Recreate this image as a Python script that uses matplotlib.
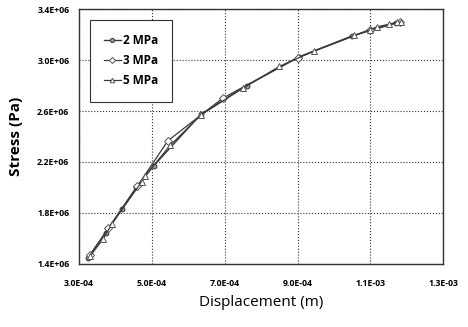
import matplotlib.pyplot as plt
from matplotlib.ticker import FuncFormatter

# data (displacement in m, stress in Pa)
x_2mpa = [3.24e-4, 3.73e-4, 4.17e-4, 4.57e-4, 5.05e-4, 6.35e-4, 7.6e-4,
          9.05e-4, 1.05e-3, 1.17e-3]
y_2mpa = [1.445e6, 1.645e6, 1.83e6, 2.0e6, 2.17e6, 2.576e6, 2.80e6,
          3.026e6, 3.19e6, 3.29e6]

x_3mpa = [3.30e-4, 3.80e-4, 4.60e-4, 5.44e-4, 6.94e-4, 9.0e-4, 1.10e-3, 1.18e-3]
y_3mpa = [1.47e6, 1.68e6, 2.01e6, 2.367e6, 2.70e6, 3.02e6, 3.24e6, 3.30e6]

x_5mpa = [3.30e-4, 3.66e-4, 3.90e-4, 4.72e-4, 4.81e-4, 5.5e-4, 6.35e-4,
          7.5e-4, 8.5e-4, 9.46e-4, 1.056e-3, 1.10e-3, 1.118e-3, 1.152e-3,
          1.173e-3, 1.184e-3]
y_5mpa = [1.46e6, 1.596e6, 1.714e6, 2.045e6, 2.09e6, 2.33e6, 2.57e6,
          2.78e6, 2.95e6, 3.073e6, 3.194e6, 3.24e6, 3.261e6, 3.282e6,
          3.298e6, 3.30e6]

labels = ['2 MPa', '3 MPa', '5 MPa']
xticks = [3.0e-4, 5.0e-4, 7.0e-4, 9.0e-4, 1.1e-3, 1.3e-3]
yticks = [1.4e6, 1.8e6, 2.2e6, 2.6e6, 3.0e6, 3.4e6]


def sci_fmt(v, pos):
    # Excel style 3.0E-04
    m, e = f'{v:.1E}'.split('E')
    return f'{m}E{int(e):+03d}'


plt.rcParams['font.family'] = ['Open Sans', 'DejaVu Sans']

fig = plt.figure(figsize=(4.68, 3.27), dpi=100)
ax = fig.add_axes([0.169, 0.193, 0.778, 0.779])

lc = '#3a3a3a'
ax.plot(x_2mpa, y_2mpa, '-o', c=lc, lw=1.0, ms=3.5, mfc='#999999', mec=lc,
        mew=0.7, label=labels[0], zorder=3)
ax.plot(x_3mpa, y_3mpa, '-D', c=lc, lw=0.9, ms=3.6, mfc='white', mec='#555555',
        mew=0.7, label=labels[1], zorder=4)
ax.plot(x_5mpa, y_5mpa, '-^', c=lc, lw=0.9, ms=3.8, mfc='white', mec='#555555',
        mew=0.7, label=labels[2], zorder=5)

ax.set_xlim(xticks[0], xticks[-1])
ax.set_ylim(yticks[0], yticks[-1])
ax.set_xticks(xticks)
ax.set_yticks(yticks)
ax.xaxis.set_major_formatter(FuncFormatter(sci_fmt))
ax.yaxis.set_major_formatter(FuncFormatter(sci_fmt))
ax.tick_params(length=0, labelsize=6.3, pad=7)
for t in ax.get_xticklabels() + ax.get_yticklabels():
    t.set_fontweight('bold')
ax.tick_params(axis='x', pad=11)

ax.grid(True, ls=':', lw=0.8, c='#333333', zorder=0)
for s in ax.spines.values():
    s.set_color('#333333')
    s.set_linewidth(1.0)

ax.set_xlabel('Displacement (m)', fontsize=11, labelpad=5)
ax.set_ylabel('Stress (Pa)', fontsize=11, fontweight='bold', labelpad=10)

leg = ax.legend(loc='upper left', bbox_to_anchor=(0.03, 0.957),
                prop={'weight': 'bold', 'size': 8.5}, handlelength=1.4,
                handletextpad=0.2, labelspacing=0.6, borderpad=1.2,
                borderaxespad=0, fancybox=False, framealpha=1,
                edgecolor='#333333', markerscale=0.85)
leg.get_frame().set_linewidth(0.8)

fig.savefig('out.png', dpi=100)
